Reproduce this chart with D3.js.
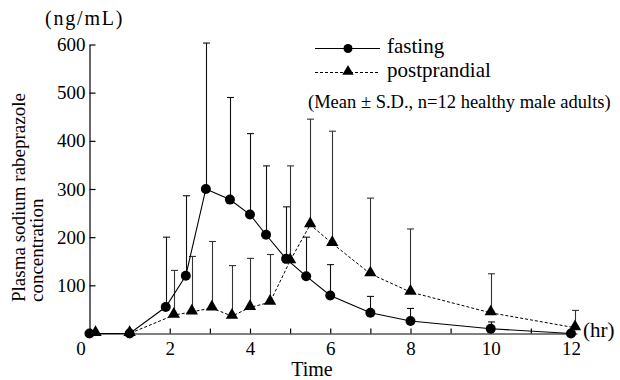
<!DOCTYPE html>
<html lang="en">
<head>
<meta charset="UTF-8">
<title>Plasma sodium rabeprazole concentration</title>
<script src="https://d3js.org/d3.v7.min.js"></script>
<style>
  body { margin: 0; background: #fff; }
  text { font-family: "Liberation Serif", "Times New Roman", serif; fill: #000; }
</style>
</head>
<body>
<div id="chart"></div>
<script>
// times as plotted (the two series are nudged apart a little in the figure)
var fastTime = [0, 1, 1.9, 2.4, 2.9, 3.5, 4, 4.4, 4.9, 5.4, 6, 7, 8, 10, 12];
var fastMean = [0, 0, 55, 120, 300, 278, 247, 205, 155, 119, 79, 43, 26, 10, 0];
var fastUpper = [null, null, 200, 286, 603, 490, 415, 348, 263, 200, 143, 77, 52, 24, null];

var postTime = [0.15, 1, 2.1, 2.55, 3.05, 3.55, 4, 4.5, 5, 5.5, 6.05, 7, 8, 10, 12.1];
var postMean = [0, 0, 38, 45, 53, 36, 54, 65, 151, 226, 187, 124, 86, 43, 12];
var postUpper = [null, null, 131, 160, 191, 141, 156, 164, 348, 445, 420, 281, 217, 124, 48];

var xTicks = [0, 1, 2, 3, 4, 5, 6, 7, 8, 9, 10, 11, 12];
var yTicks = [100, 200, 300, 400, 500, 600];

var W = 620, H = 380;
var svg = d3.select("#chart").append("svg")
    .attr("width", W).attr("height", H);

var x = d3.scaleLinear().domain([0, 12.15]).range([89.5, 577]);
var y = d3.scaleLinear().domain([0, 600]).range([333.5, 44.5]);

// x axis
var xAxis = svg.append("g")
    .attr("transform", "translate(0," + y(0) + ")")
    .call(d3.axisBottom(x)
        .tickValues(xTicks)
        .tickSize(-5)
        .tickSizeOuter(0)
        .tickPadding(8)
        .tickFormat(function(d) { return d % 2 == 0 ? d : ""; }));
xAxis.selectAll("text").style("font-size", "19px").style("font-family", "Liberation Serif");
xAxis.selectAll(".tick").filter(function(d) { return d == 0; })
    .select("text").attr("dx", "-9");
xAxis.selectAll("line, path").attr("stroke", "#000").attr("stroke-width", 1.2);

// y axis
var yAxis = svg.append("g")
    .attr("transform", "translate(" + x(0) + ",0)")
    .call(d3.axisLeft(y)
        .tickValues(yTicks)
        .tickSize(-6)
        .tickSizeOuter(0)
        .tickPadding(4));
yAxis.selectAll("text").style("font-size", "19px").style("font-family", "Liberation Serif");
yAxis.selectAll("line, path").attr("stroke", "#000").attr("stroke-width", 1.2);

// axis captions
svg.append("text")
    .attr("x", 45).attr("y", 25)
    .style("font-size", "20px")
    .style("letter-spacing", "1.8px")
    .text("(ng/mL)");

svg.append("text")
    .attr("x", 583).attr("y", 337)
    .style("font-size", "21px")
    .text("(hr)");

svg.append("text")
    .attr("x", 312).attr("y", 376)
    .attr("text-anchor", "middle")
    .style("font-size", "20px")
    .text("Time");

svg.append("text")
    .attr("transform", "rotate(-90)")
    .attr("x", -302).attr("y", 25)
    .style("font-size", "19px")
    .text("Plasma sodium rabeprazole");
svg.append("text")
    .attr("transform", "rotate(-90)")
    .attr("x", -302).attr("y", 43)
    .style("font-size", "19px")
    .text("concentration");

// error bars (upper side only)
function errorBars(times, means, uppers, color) {
    var rows = times.map(function(t, i) { return {t: t, m: means[i], u: uppers[i]}; })
        .filter(function(d) { return d.u != null; });
    var g = svg.append("g").attr("stroke", color).attr("stroke-width", 1.1);
    g.selectAll("line.v").data(rows).enter().append("line")
        .attr("x1", function(d) { return Math.round(x(d.t)) + 0.5; })
        .attr("x2", function(d) { return Math.round(x(d.t)) + 0.5; })
        .attr("y1", function(d) { return y(d.m); })
        .attr("y2", function(d) { return y(d.u); });
    g.selectAll("line.c").data(rows).enter().append("line")
        .attr("x1", function(d) { return Math.round(x(d.t)) + 0.5 - 3.5; })
        .attr("x2", function(d) { return Math.round(x(d.t)) + 0.5 + 3.5; })
        .attr("y1", function(d) { return y(d.u); })
        .attr("y2", function(d) { return y(d.u); });
}
errorBars(fastTime, fastMean, fastUpper, "#111");
errorBars(postTime, postMean, postUpper, "#333");

// lines
var lineFast = d3.line()
    .x(function(d, i) { return x(fastTime[i]); })
    .y(function(d) { return y(d); });
var linePost = d3.line()
    .x(function(d, i) { return x(postTime[i]); })
    .y(function(d) { return y(d); });

svg.append("path")
    .attr("d", linePost(postMean))
    .attr("fill", "none")
    .attr("stroke", "#000")
    .attr("stroke-width", 1)
    .attr("stroke-dasharray", "3,2");

svg.append("path")
    .attr("d", lineFast(fastMean))
    .attr("fill", "none")
    .attr("stroke", "#000")
    .attr("stroke-width", 1.1);

// markers
var tri = d3.symbol().type(d3.symbolTriangle).size(66);
svg.selectAll("path.tri").data(postMean).enter().append("path")
    .attr("d", tri)
    .attr("transform", function(d, i) { return "translate(" + x(postTime[i]) + "," + (y(d) - 1) + ")"; })
    .attr("fill", "#000");

svg.selectAll("circle.fast").data(fastMean).enter().append("circle")
    .attr("cx", function(d, i) { return x(fastTime[i]); })
    .attr("cy", function(d) { return y(d); })
    .attr("r", 5)
    .attr("fill", "#000");

// legend
var lg = svg.append("g");
lg.append("line")
    .attr("x1", 315).attr("x2", 380).attr("y1", 48.5).attr("y2", 48.5)
    .attr("stroke", "#000").attr("stroke-width", 1.1);
lg.append("circle").attr("cx", 348).attr("cy", 48.5).attr("r", 4.5).attr("fill", "#000");
lg.append("line")
    .attr("x1", 315).attr("x2", 380).attr("y1", 72.5).attr("y2", 72.5)
    .attr("stroke", "#000").attr("stroke-width", 1)
    .attr("stroke-dasharray", "3,2");
lg.append("path").attr("d", d3.symbol().type(d3.symbolTriangle).size(56))
    .attr("transform", "translate(348,71.5)").attr("fill", "#000");

lg.append("text").attr("x", 387).attr("y", 53)
    .style("font-size", "21px").text("fasting");
lg.append("text").attr("x", 387).attr("y", 77)
    .style("font-size", "21px").text("postprandial");
lg.append("text").attr("x", 308).attr("y", 108)
    .style("font-size", "18.5px").text("(Mean \u00b1 S.D., n=12 healthy male adults)");
</script>
</body>
</html>
